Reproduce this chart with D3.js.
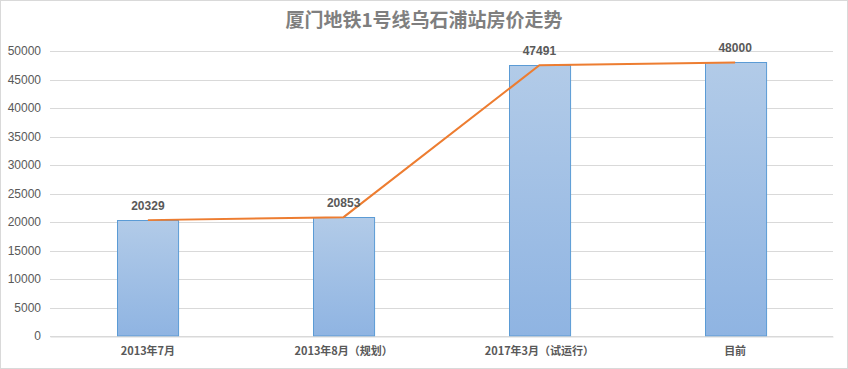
<!DOCTYPE html>
<html><head><meta charset="utf-8">
<script src="https://cdn.jsdelivr.net/npm/d3@7/dist/d3.min.js"></script>
<style>body{margin:0;background:#fff}</style>
</head><body>
<svg id="c" width="848" height="369"></svg>
<script>
const title = "厦门地铁1号线乌石浦站房价走势";
const categories = ["2013年7月", "2013年8月（规划）", "2017年3月（试运行）", "目前"];
const prices = [20329, 20853, 47491, 48000];
const yTicks = [0, 5000, 10000, 15000, 20000, 25000, 30000, 35000, 40000, 45000, 50000];

const W = 848, H = 369;
const m = {left: 50, right: 15, top: 51, bottom: 33};
const svg = d3.select("#c");
const font = "'Liberation Sans', 'Noto Sans CJK SC', sans-serif";

svg.append("rect").attr("x", 0.5).attr("y", 0.5).attr("width", W - 1).attr("height", H - 1)
  .attr("fill", "#fff").attr("stroke", "#d9d9d9");

const defs = svg.append("defs");
const g = defs.append("linearGradient").attr("id", "bg").attr("x1", 0).attr("y1", 0).attr("x2", 0).attr("y2", 1);
g.append("stop").attr("offset", "0%").attr("stop-color", "#b2cbe8");
g.append("stop").attr("offset", "100%").attr("stop-color", "#8fb4e2");

const x = d3.scaleBand().domain(categories).range([m.left, W - m.right]).paddingInner(0.688).paddingOuter(0.344);
const y = d3.scaleLinear().domain([0, 50000]).range([H - m.bottom, m.top]);

svg.append("text").attr("x", 424).attr("y", 27).attr("text-anchor", "middle")
  .attr("font-family", "'Noto Sans CJK SC', sans-serif").attr("font-weight", "bold")
  .attr("font-size", 19).attr("fill", "#7f7f7f").text(title);

// gridlines
svg.append("g").selectAll("line").data(yTicks).join("line")
  .attr("x1", m.left).attr("x2", W - m.right)
  .attr("y1", d => Math.round(y(d)) + 0.5).attr("y2", d => Math.round(y(d)) + 0.5)
  .attr("stroke", "#d9d9d9").attr("stroke-width", 1);

// y axis labels
const yAxis = svg.append("g").attr("transform", `translate(${m.left},0)`)
  .call(d3.axisLeft(y).tickValues(yTicks).tickSize(0).tickPadding(9).tickFormat(d3.format("d")));
yAxis.select(".domain").remove();
yAxis.selectAll("text").attr("font-family", font).attr("font-size", 12).attr("fill", "#595959");

// bars
svg.append("g").selectAll("rect").data(prices).join("rect")
  .attr("x", (d, i) => Math.round(x(categories[i])) + 0.5)
  .attr("y", d => Math.round(y(d)) + 0.5)
  .attr("width", x.bandwidth())
  .attr("height", d => y(0) - Math.round(y(d)) - 0.5)
  .attr("fill", "url(#bg)").attr("stroke", "#5b9bd5").attr("stroke-width", 1);

// x axis
const xAxis = svg.append("g").attr("transform", `translate(0,${Math.round(y(0)) + 0.5})`)
  .call(d3.axisBottom(x).tickSize(0).tickPadding(11));
xAxis.select(".domain").attr("stroke", "#d9d9d9");
xAxis.selectAll("text").attr("font-family", "'Noto Sans CJK SC', sans-serif").attr("font-size", 11)
  .attr("font-weight", "bold").attr("fill", "#595959");

// line
const line = d3.line().x((d, i) => x(categories[i]) + x.bandwidth() / 2).y(d => y(d));
svg.append("path").datum(prices).attr("d", line).attr("fill", "none")
  .attr("stroke", "#ed7d31").attr("stroke-width", 2);

// labels
svg.append("g").selectAll("text").data(prices).join("text")
  .attr("x", (d, i) => x(categories[i]) + x.bandwidth() / 2)
  .attr("y", d => y(d) - 10)
  .attr("text-anchor", "middle").attr("font-family", font).attr("font-size", 12)
  .attr("font-weight", "bold").attr("fill", "#595959").text(d => d);
</script>
</body></html>
